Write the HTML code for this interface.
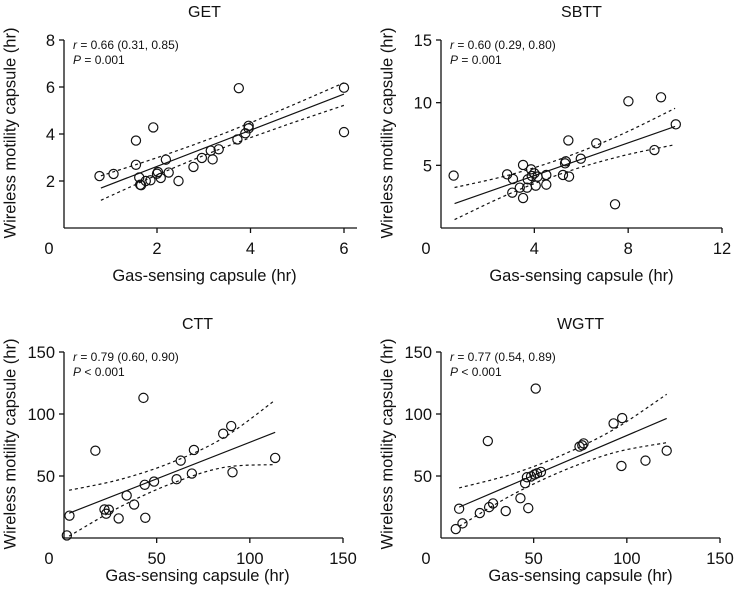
<!DOCTYPE html>
<html><head><meta charset="utf-8"><style>
body{margin:0;background:#fff;}
svg text{font-family:"Liberation Sans",sans-serif;fill:#111;}
</style></head><body>
<svg id="c" width="735" height="593" xmlns="http://www.w3.org/2000/svg"></svg>
<script>
// GET data
const getX=[0.77,1.07,1.55,1.55,1.62,1.64,1.66,1.76,1.86,1.92,2.0,2.02,2.08,2.19,2.25,2.46,2.78,2.96,3.15,3.19,3.32,3.72,3.75,3.89,3.96,3.96,6.0,6.0];
const getY=[2.21,2.30,3.72,2.69,2.15,1.84,1.82,2.00,2.03,4.28,2.31,2.38,2.13,2.91,2.36,2.0,2.6,2.98,3.29,2.92,3.35,3.77,5.95,4.03,4.24,4.35,5.97,4.08];
const getFitX=[0.8,2.1,3.4,4.7,6];
const getFitY=[1.7,2.70,3.70,4.70,5.70];
const getCI=[0.52,0.36,0.3,0.36,0.48];
// SBTT data
const sbX=[0.56,2.84,3.09,3.06,3.38,3.52,3.52,3.69,3.72,3.86,3.89,4.0,4.06,4.14,4.51,4.51,5.22,5.31,5.34,5.48,5.45,5.98,6.64,7.44,8.01,9.12,9.4,10.03];
const sbY=[4.18,4.28,3.91,2.82,3.22,5.03,2.39,3.22,3.88,4.68,4.15,4.36,3.38,4.1,4.23,3.46,4.23,5.16,5.32,4.10,6.99,5.53,6.76,1.89,10.11,6.22,10.43,8.27];
const sbFitX=[0.6,2.95,5.3,7.65,10];
const sbFitY=[1.95,3.49,5.03,6.56,8.1];
const sbCI=[1.28,0.75,0.6,0.85,1.45];
// CTT data
const ctX=[1.8,3.2,22,22.9,24.3,29.6,33.9,37.9,42.9,43.6,43.9,48.6,17.1,60.7,62.9,68.9,70,85.7,90,90.7,113.6];
const ctY=[2.1,18,23,19.6,22.8,15.8,34.3,27,113,42.9,16.3,45.5,70.4,47.4,62.4,52,71,84.1,90.3,53,64.6];
const ctFitX=[3,30.65,58.3,85.95,113.6];
const ctFitY=[20,36.3,52.6,68.9,85.2];
const ctCI=[18.5,11,8.5,12,26];
// WGTT data
const wgX=[8.2,10,11.8,21.1,25.4,26.1,28.2,35,42.9,45.4,46.4,47.1,48.6,50.4,51.1,51.8,53.9,74.6,76.1,76.8,92.9,97.5,97.1,110,121.4];
const wgY=[7.2,23.6,11.8,20.1,78.2,24.9,27.9,21.7,32.1,44.2,49,24.1,49.6,51.2,120.5,52.2,53.3,73.7,74.7,76.3,92.4,96.7,58.1,62.4,70.4];
const wgFitX=[10,37.85,65.7,93.55,121.4];
const wgFitY=[24.9,42.8,60.7,78.5,96.4];
const wgCI=[15.5,8.5,6.5,9.5,19.5];

const getXTicks=[0,2,4,6], getYTicks=[2,4,6,8];
const sbXTicks=[0,4,8,12], sbYTicks=[5,10,15];
const ctXTicks=[0,50,100,150], ctYTicks=[50,100,150];
const wgXTicks=[0,50,100,150], wgYTicks=[50,100,150];

const NS="http://www.w3.org/2000/svg";
const svg=document.getElementById('c');
function mk(tag,attrs,parent){const e=document.createElementNS(NS,tag);for(const k in attrs)e.setAttribute(k,attrs[k]);(parent||svg).appendChild(e);return e;}

const panels=[
 {key:'get',title:'GET',px0:63.5,pxMax:344,xMax:6,axEnd:357,yTop:40,yBot:228,yMax:8,xTitleOff:53,xs:getX,ys:getY,fx:getFitX,fy:getFitY,ci:getCI,xt:getXTicks,yt:getYTicks,r:'0.66 (0.31, 0.85)',p:'= 0.001'},
 {key:'sbtt',title:'SBTT',px0:440.5,pxMax:722,xMax:12,axEnd:722,yTop:40,yBot:228,yMax:15,xTitleOff:53,xs:sbX,ys:sbY,fx:sbFitX,fy:sbFitY,ci:sbCI,xt:sbXTicks,yt:sbYTicks,r:'0.60 (0.29, 0.80)',p:'= 0.001'},
 {key:'ctt',title:'CTT',px0:63.5,pxMax:343,xMax:150,axEnd:343,yTop:352,yBot:538,yMax:150,xTitleOff:43,xs:ctX,ys:ctY,fx:ctFitX,fy:ctFitY,ci:ctCI,xt:ctXTicks,yt:ctYTicks,r:'0.79 (0.60, 0.90)',p:'< 0.001'},
 {key:'wgtt',title:'WGTT',px0:440.5,pxMax:720,xMax:150,axEnd:720,yTop:352,yBot:538,yMax:150,xTitleOff:43,xs:wgX,ys:wgY,fx:wgFitX,fy:wgFitY,ci:wgCI,xt:wgXTicks,yt:wgYTicks,r:'0.77 (0.54, 0.89)',p:'< 0.001'}
];

function smooth(pts){
 let d='M'+pts[0][0]+','+pts[0][1];
 for(let i=0;i<pts.length-1;i++){
  const p0=pts[Math.max(0,i-1)],p1=pts[i],p2=pts[i+1],p3=pts[Math.min(pts.length-1,i+2)];
  const c1=[p1[0]+(p2[0]-p0[0])/6,p1[1]+(p2[1]-p0[1])/6];
  const c2=[p2[0]-(p3[0]-p1[0])/6,p2[1]-(p3[1]-p1[1])/6];
  d+=' C'+c1[0]+','+c1[1]+' '+c2[0]+','+c2[1]+' '+p2[0]+','+p2[1];
 }
 return d;
}

panels.forEach(P=>{
 const g=mk('g',{});
 
 
 const X=v=>P.px0+(P.pxMax-P.px0)*v/P.xMax;
 const Y=v=>P.yBot-(P.yBot-P.yTop)*v/P.yMax;
 const axL=P.px0+0.5;
 const mid=(axL+P.axEnd)/2;
 const shift=(P.key==='get'||P.key==='ctt'?-6:0);
 const t=mk('text',{x:mid+shift,y:P.yTop-23,'text-anchor':'middle','font-size':16},g);
 t.textContent=P.title;
 
 
 const ya=mk('line',{x1:axL,y1:P.yTop,x2:axL,y2:P.yBot,stroke:'#111','stroke-width':1.3},g);
 
 
 const xa=mk('line',{x1:axL,y1:P.yBot,x2:P.axEnd,y2:P.yBot,stroke:'#111','stroke-width':1.3},g);
 
 
 P.yt.forEach(v=>{
  mk('line',{x1:axL-5,y1:Y(v),x2:axL,y2:Y(v),stroke:'#111','stroke-width':1.3},g);
  const l=mk('text',{x:axL-9,y:Y(v)+6,'text-anchor':'end','font-size':16.5},g);
  l.textContent=v;
  
  
 });
 P.xt.forEach(v=>{
  const x=v===0?axL:X(v);
  if(v!==0)mk('line',{x1:x,y1:P.yBot,x2:x,y2:P.yBot+5,stroke:'#111','stroke-width':1.3},g);
  const l=mk('text',{x:v===0?axL-15:x,y:P.yBot+26,'text-anchor':'middle','font-size':16.5},g);
  l.textContent=v;
  
  
 });
 const xl=mk('text',{x:mid+shift,y:P.yBot+P.xTitleOff,'text-anchor':'middle','font-size':16.5},g);
 xl.textContent='Gas-sensing capsule (hr)';
 
 
 const yc=(P.yTop+P.yBot)/2-1;
 const ylx=P.px0-48;
 const yl=mk('text',{x:ylx,y:yc,'text-anchor':'middle','font-size':16.5,transform:'rotate(-90 '+ylx+' '+yc+')'},g);
 yl.textContent='Wireless motility capsule (hr)';
 
 
 const a1=mk('text',{x:axL+9,y:P.yTop+9,'font-size':12},g);
 a1.innerHTML='<tspan font-style="italic">r</tspan> = '+P.r;
 
 
 const a2=mk('text',{x:axL+9,y:P.yTop+24,'font-size':12},g);
 a2.innerHTML='<tspan font-style="italic">P</tspan> '+P.p;
 
 
 const fl=mk('line',{x1:X(P.fx[0]),y1:Y(P.fy[0]),x2:X(P.fx[P.fx.length-1]),y2:Y(P.fy[P.fy.length-1]),stroke:'#111','stroke-width':1.2},g);
 
 
 const up=P.fx.map((x,i)=>[X(x),Y(P.fy[i]+P.ci[i])]);
 const lo=P.fx.map((x,i)=>[X(x),Y(Math.max(0,P.fy[i]-P.ci[i]))]);
 const cu=mk('path',{d:smooth(up),fill:'none',stroke:'#111','stroke-width':1.2,'stroke-dasharray':'3,3'},g);
 
 
 const cl=mk('path',{d:smooth(lo),fill:'none',stroke:'#111','stroke-width':1.2,'stroke-dasharray':'3,3'},g);
 
 
 P.xs.forEach((x,i)=>{
  const c=mk('circle',{cx:X(x),cy:Y(P.ys[i]),r:4.6,fill:'none',stroke:'#111','stroke-width':1.2},g);
  
  
 });
});
</script>
</body></html>
